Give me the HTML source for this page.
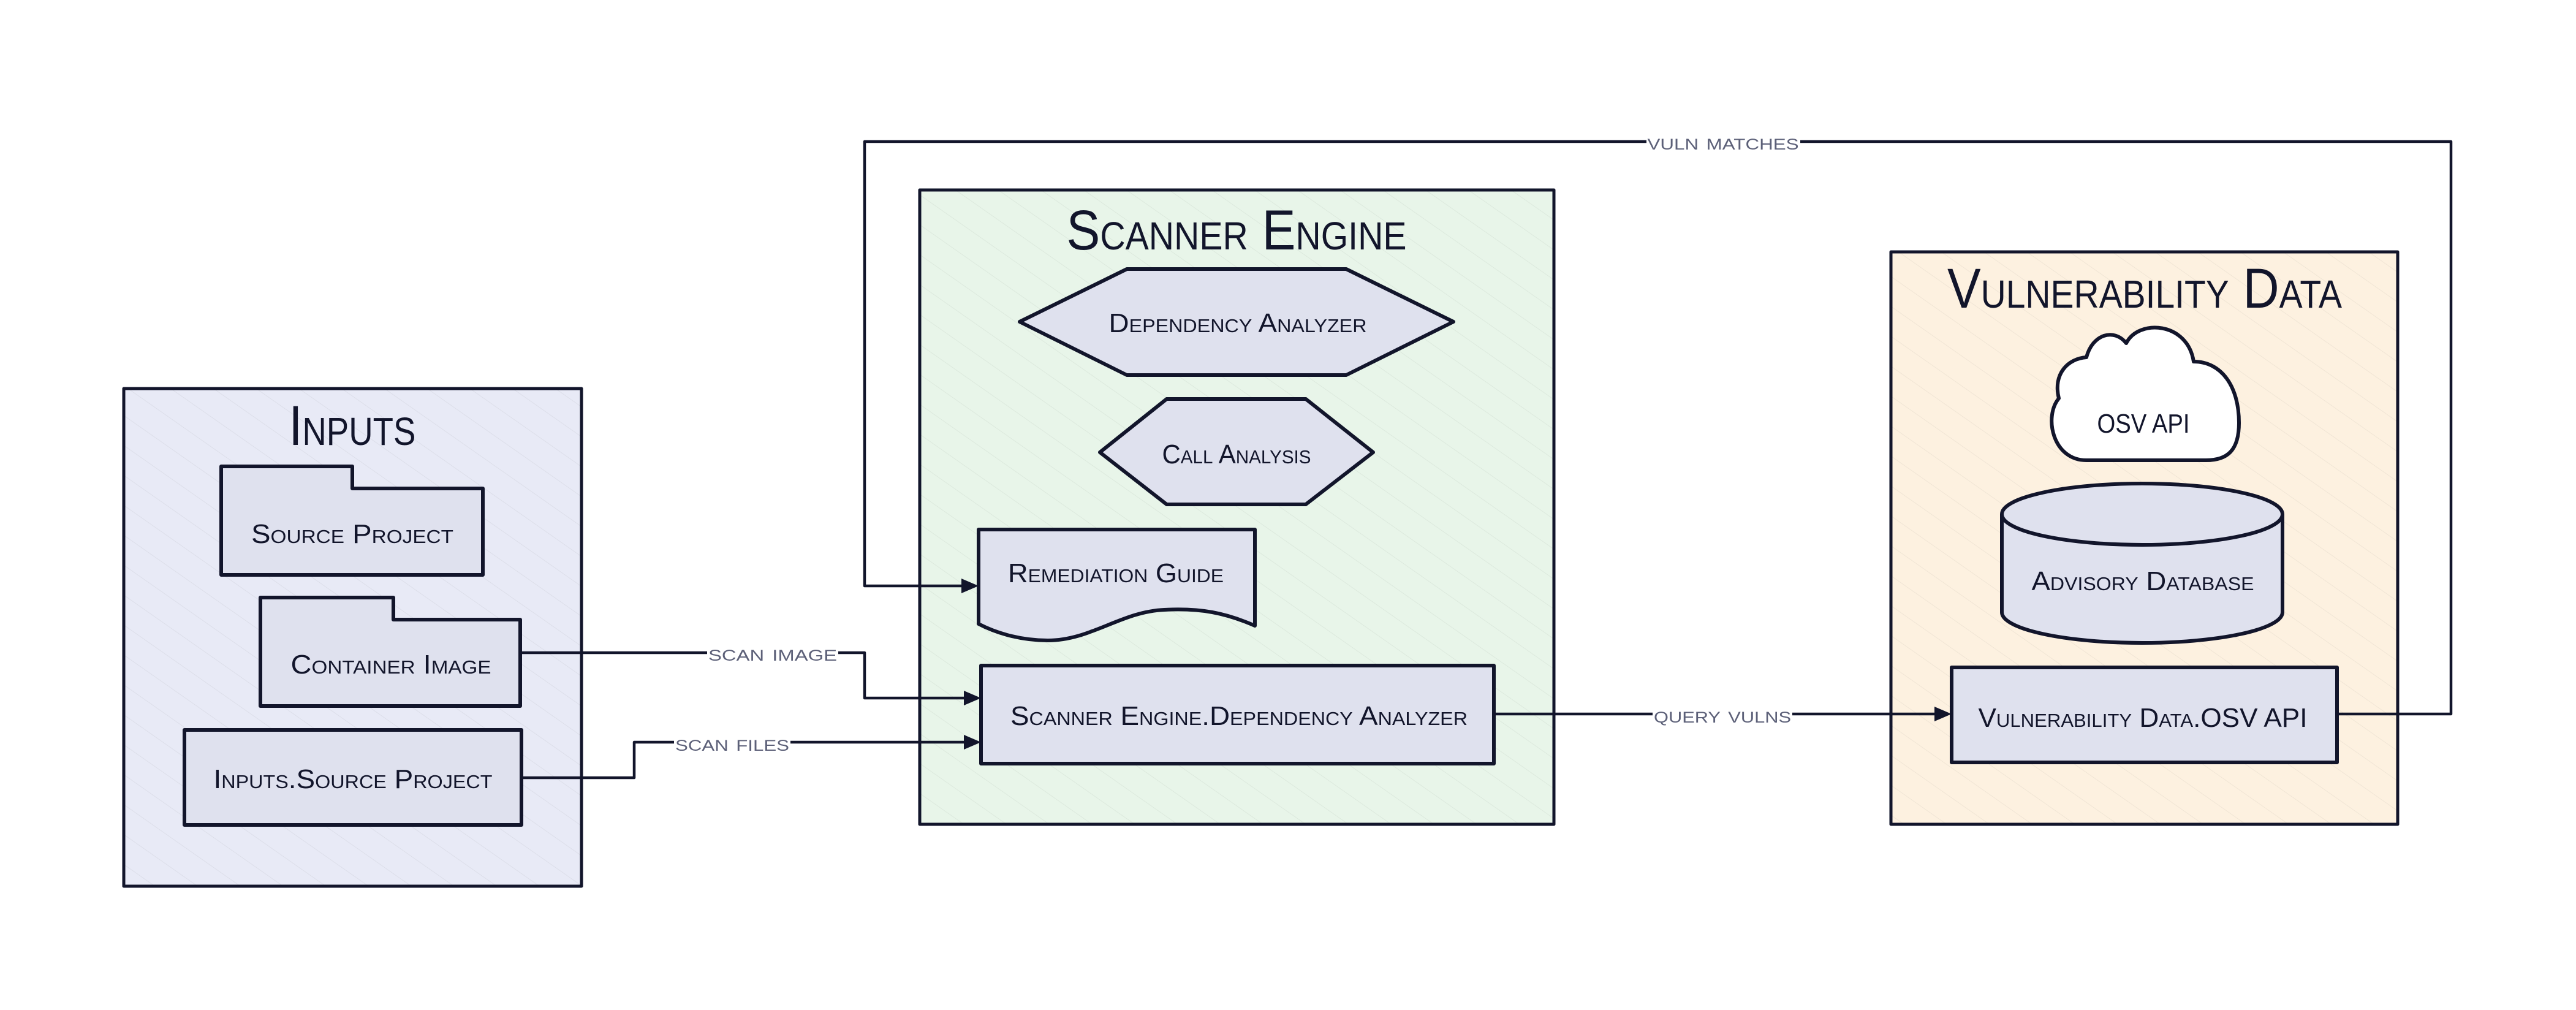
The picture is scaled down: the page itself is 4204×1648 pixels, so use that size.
<!DOCTYPE html>
<html><head><meta charset="utf-8"><style>
html,body{margin:0;padding:0;background:#fff;}
svg{display:block;}
text{font-family:"Liberation Sans",sans-serif;font-variant:small-caps;fill:#12152b;}
.t{font-size:44px;}
.l{font-size:36px;fill:#5c6078;}
.h{font-size:92px;}
</style></head><body>
<svg width="4204" height="1648" viewBox="0 0 4204 1648" xmlns="http://www.w3.org/2000/svg">
<defs>
<pattern id="hatch" width="40" height="40" patternUnits="userSpaceOnUse" patternTransform="rotate(-55)">
<line x1="0" y1="0" x2="0" y2="40" stroke="#000" stroke-opacity="0.05" stroke-width="2"/>
</pattern>
</defs>
<g stroke="#12152b" stroke-linejoin="round">
<!-- containers -->
<rect x="202" y="634" width="747" height="812" fill="#e8eaf6" stroke-width="5"/>
<rect x="1501" y="310" width="1035" height="1035" fill="#e8f5e9" stroke-width="5"/>
<rect x="3086" y="411" width="827" height="934" fill="#fdf1e0" stroke-width="5"/>
<rect x="202" y="634" width="747" height="812" fill="url(#hatch)" stroke="none"/>
<rect x="1501" y="310" width="1035" height="1035" fill="url(#hatch)" stroke="none"/>
<rect x="3086" y="411" width="827" height="934" fill="url(#hatch)" stroke="none"/>

<!-- Inputs nodes -->
<path d="M361 761 L575 761 L575 797 L788 797 L788 938 L361 938 Z" fill="#dfe1ee" stroke-width="6"/>
<path d="M425 975 L642 975 L642 1011 L849 1011 L849 1152 L425 1152 Z" fill="#dfe1ee" stroke-width="6"/>
<rect x="301" y="1191" width="550" height="155" fill="#dfe1ee" stroke-width="6"/>

<!-- Scanner nodes -->
<path d="M1664 525 L1839 439 L2197 439 L2372 525 L2197 612 L1839 612 Z" fill="#dfe1ee" stroke-width="6"/>
<path d="M1795 738 L1904 651 L2131 651 L2241 738 L2131 823 L1904 823 Z" fill="#dfe1ee" stroke-width="6"/>
<path d="M1597 864 L2048 864 L2048 1021 C2000 1000 1960 992 1900 995 C1830 998 1780 1045 1710 1045 C1660 1045 1620 1030 1597 1018 Z" fill="#dfe1ee" stroke-width="6"/>
<rect x="1601" y="1086" width="837" height="160" fill="#dfe1ee" stroke-width="6"/>

<!-- Vuln nodes -->
<path d="M3405 751 C3350 751 3335 680 3360 650 C3350 610 3375 585 3405 583 C3415 545 3450 535 3470 560 C3490 520 3570 525 3580 590 C3625 590 3654 630 3654 690 C3654 735 3635 751 3600 751 Z" fill="#fff" stroke-width="6"/>
<path d="M3267 839 L3267 999 A229 50 0 0 0 3725 999 L3725 839" fill="#dfe1ee" stroke-width="6"/>
<ellipse cx="3496" cy="839" rx="229" ry="50" fill="#dfe1ee" stroke-width="6"/>
<rect x="3185" y="1089" width="629" height="155" fill="#dfe1ee" stroke-width="6"/>

<!-- connectors -->
<g fill="none" stroke-width="4.5">
<path d="M849 1065 L1154 1065 M1368 1065 L1411 1065 L1411 1139 L1580 1139"/>
<path d="M851 1269 L1035 1269 L1035 1211 L1100 1211 M1290 1211 L1580 1211"/>
<path d="M1580 956 L1411 956 L1411 231 L2687 231 M2938 231 L4000 231 L4000 1165 L3814 1165"/>
<path d="M2438 1165 L2697 1165 M2925 1165 L3166 1165"/>
</g>
<g fill="#12152b" stroke="none">
<polygon points="1601,1139 1573,1127 1573,1151"/>
<polygon points="1601,1211 1573,1199 1573,1223"/>
<polygon points="1597,956 1569,944 1569,968"/>
<polygon points="3185,1165 3157,1153 3157,1177"/>
</g>
</g>

<!-- titles -->
<text class="h" x="575" y="726" text-anchor="middle" textLength="207" lengthAdjust="spacingAndGlyphs" font-size="80">Inputs</text>
<text class="h" x="2018" y="407" text-anchor="middle" textLength="555" lengthAdjust="spacingAndGlyphs">Scanner Engine</text>
<text class="h" x="3500" y="502" text-anchor="middle" textLength="644" lengthAdjust="spacingAndGlyphs">Vulnerability Data</text>

<!-- node labels -->
<text class="t" x="575" y="886" text-anchor="middle" textLength="330" lengthAdjust="spacingAndGlyphs">Source Project</text>
<text class="t" x="638" y="1099" text-anchor="middle" textLength="327" lengthAdjust="spacingAndGlyphs">Container Image</text>
<text class="t" x="576" y="1286" text-anchor="middle" textLength="455" lengthAdjust="spacingAndGlyphs">Inputs.Source Project</text>
<text class="t" x="2020" y="542" text-anchor="middle" textLength="421" lengthAdjust="spacingAndGlyphs">Dependency Analyzer</text>
<text class="t" x="2018" y="756" text-anchor="middle" textLength="243" lengthAdjust="spacingAndGlyphs">Call Analysis</text>
<text class="t" x="1821" y="950" text-anchor="middle" textLength="352" lengthAdjust="spacingAndGlyphs">Remediation Guide</text>
<text class="t" x="2022" y="1183" text-anchor="middle" textLength="746" lengthAdjust="spacingAndGlyphs">Scanner Engine.Dependency Analyzer</text>
<text class="t" x="3498" y="706" text-anchor="middle" textLength="151" lengthAdjust="spacingAndGlyphs">OSV API</text>
<text class="t" x="3497" y="963" text-anchor="middle" textLength="363" lengthAdjust="spacingAndGlyphs">Advisory Database</text>
<text class="t" x="3497" y="1186" text-anchor="middle" textLength="537" lengthAdjust="spacingAndGlyphs">Vulnerability Data.OSV API</text>

<!-- edge labels -->
<text class="l" x="1261" y="1078" text-anchor="middle" textLength="210" lengthAdjust="spacingAndGlyphs">scan image</text>
<text class="l" x="1195" y="1225" text-anchor="middle" textLength="186" lengthAdjust="spacingAndGlyphs">scan files</text>
<text class="l" x="2812" y="244" text-anchor="middle" textLength="247" lengthAdjust="spacingAndGlyphs">vuln matches</text>
<text class="l" x="2811" y="1179" text-anchor="middle" textLength="224" lengthAdjust="spacingAndGlyphs">query vulns</text>
</svg>
</body></html>
